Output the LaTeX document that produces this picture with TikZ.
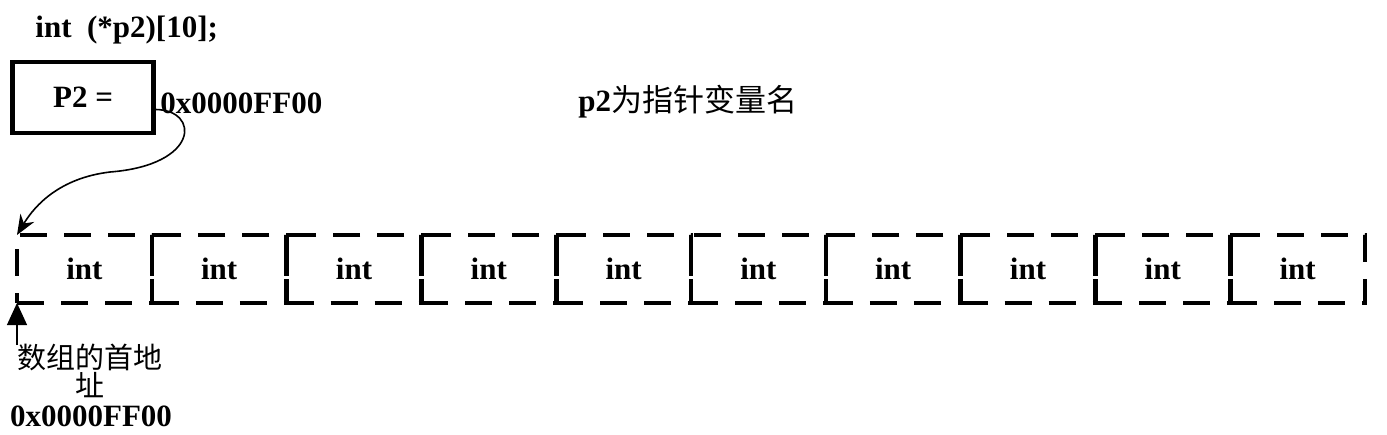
\documentclass[tikz,border=0pt]{standalone}
\usepackage{fontspec}
\setmainfont{Liberation Serif}
\newfontfamily\cjk{Noto Sans CJK SC}
\usetikzlibrary{positioning,arrows.meta}
\tikzset{
  cellbox/.style={draw,line width=2.3pt,dash pattern=on 13.5pt off 8.5pt,
    minimum width=67.4pt,minimum height=34pt,inner sep=0pt,outer sep=0pt,
    font=\bfseries\fontsize{15.5}{18}\selectfont},
  lbl/.style={font=\bfseries\fontsize{15.5}{18}\selectfont,inner sep=0pt}
}
\begin{document}
\begin{tikzpicture}[x=0.5pt,y=-0.5pt]
  \useasboundingbox (0,0) rectangle (1387,434);
  \node[lbl,anchor=west] (decl) at (35,30) {int\ \ (*p2)[10];};
  \node[lbl,draw,line width=2.2pt,minimum width=70.5pt,minimum height=35.5pt] (p2box) at (83,97.5) {P2 =};
  \node[lbl,anchor=west] (val) at (160,103) {0x0000FF00};
  \node[anchor=west,inner sep=0pt,font=\fontsize{15.5}{18}\selectfont] (name) at (578,102) {{\bfseries p2}{\cjk 为指针变量名}};

  % the ten cells
  \node[cellbox,anchor=north west] (c1) at (17,235) {int};
  \foreach \i [count=\j from 1] in {2,...,10}
    \node[cellbox,right=0pt of c\j] (c\i) {int};

  \draw[line width=0.8pt,-{Stealth[length=10pt,width=8pt]}] ([yshift=-6pt]p2box.east)
    .. controls (200,110) and (200,165) .. (110,172)
    .. controls (60,178) and (35,205) .. (c1.north west);

  \coordinate (addr) at (17,345);
  \draw[line width=0.6pt,-{Triangle[length=11pt,width=10pt]}] (addr) -- (c1.south west);
  \node[font={\cjk\fontsize{14.5}{14}\selectfont},align=center,inner sep=0pt] (addrtxt) at (90,371) {\lineskiplimit=-20pt\relax 数组的首地\\址};
  \node[lbl] (addrval) at (91,416) {0x0000FF00};
\end{tikzpicture}
\end{document}
